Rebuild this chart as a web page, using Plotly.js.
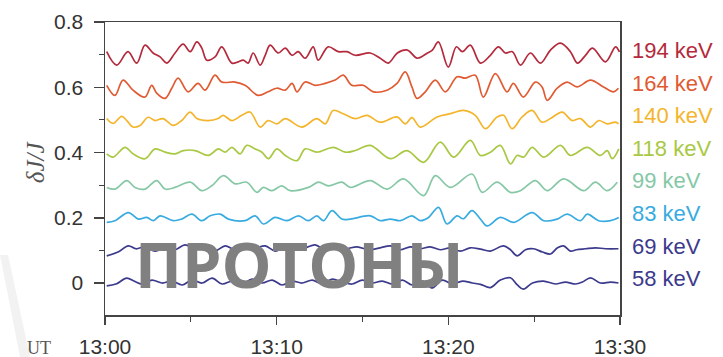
<!DOCTYPE html>
<html>
<head>
<meta charset="utf-8">
<script src="https://cdn.plot.ly/plotly-3.0.1.min.js"></script>
<style>
  html, body { margin: 0; padding: 0; background: #ffffff; }
  #chart { width: 723px; height: 357px; }
</style>
</head>
<body>
<div id="chart"></div>
<script>
// Proton flux fluctuations dJ/J, stacked by energy channel (time in minutes after 13:00 UT)
const energies = ["194 keV", "164 keV", "140 keV", "118 keV", "99 keV", "83 keV", "69 keV", "58 keV"];
const levels = [0.7, 0.6, 0.5, 0.4, 0.3, 0.2, 0.1, 0.0];
const colors = ["#b42a3c", "#e05a32", "#f4b52c", "#a9c843", "#86c8a6", "#38abe0", "#3c3a8c", "#3c3a8c"];

const t194 = [0.10,0.68,1.34,1.85,2.33,2.80,3.21,3.60,4.08,4.55,4.96,5.35,5.64,5.93,6.41,6.80,7.39,7.76,8.05,8.34,8.63,9.04,9.33,9.62,10.09,10.50,10.90,11.25,11.66,12.13,12.42,13.00,13.59,14.09,14.58,15.45,16.03,16.50,17.03,17.61,18.19,18.78,19.07,19.42,20.00,20.47,20.82,21.28,21.87,22.45,22.92,23.32,23.73,24.20,24.78,25.36,25.95,26.53,27.11,27.52,27.99,28.40,29.15,29.74,29.97];
const v194 = [0.709,0.668,0.709,0.674,0.729,0.705,0.693,0.674,0.705,0.732,0.709,0.739,0.720,0.683,0.693,0.724,0.674,0.678,0.683,0.674,0.705,0.668,0.698,0.729,0.705,0.720,0.698,0.709,0.689,0.724,0.683,0.724,0.709,0.709,0.698,0.705,0.689,0.674,0.705,0.714,0.689,0.705,0.714,0.739,0.662,0.724,0.709,0.729,0.674,0.698,0.724,0.705,0.709,0.668,0.705,0.674,0.714,0.735,0.709,0.674,0.698,0.720,0.678,0.724,0.708];

const t164 = [0.10,0.58,1.05,1.63,2.33,2.72,3.01,3.50,3.89,4.26,4.84,5.42,5.83,6.41,6.80,7.58,8.16,8.92,9.50,10.01,10.50,10.90,11.18,11.66,12.24,12.83,13.41,13.88,14.38,15.04,15.63,16.43,17.01,17.49,17.88,18.18,18.66,19.24,19.83,20.51,20.99,21.57,22.04,22.74,23.42,23.79,24.37,25.07,25.46,25.76,26.34,26.92,27.50,28.28,29.04,29.62,29.91];
const v164 = [0.606,0.575,0.622,0.591,0.570,0.606,0.582,0.566,0.597,0.628,0.586,0.612,0.591,0.637,0.616,0.616,0.606,0.575,0.586,0.597,0.591,0.612,0.586,0.616,0.606,0.612,0.622,0.637,0.606,0.606,0.586,0.591,0.612,0.647,0.601,0.566,0.586,0.622,0.586,0.632,0.628,0.637,0.570,0.642,0.586,0.612,0.570,0.616,0.601,0.560,0.597,0.616,0.601,0.622,0.601,0.586,0.597];

const t140 = [0.10,0.47,0.97,1.27,1.63,2.04,2.51,2.92,3.38,3.97,4.47,4.96,5.35,6.01,6.59,6.88,7.39,7.97,8.45,9.04,9.50,10.01,10.50,11.47,12.34,12.83,13.29,13.88,14.58,15.26,16.03,17.01,17.49,17.88,18.37,19.34,20.12,20.89,21.57,22.16,22.84,23.22,23.71,24.30,24.88,25.46,25.95,26.63,27.21,27.70,28.28,28.76,29.25,29.74,29.91];
const v140 = [0.504,0.489,0.511,0.498,0.478,0.483,0.508,0.498,0.504,0.483,0.498,0.524,0.504,0.498,0.504,0.514,0.498,0.514,0.524,0.478,0.498,0.488,0.504,0.478,0.504,0.488,0.529,0.519,0.504,0.514,0.493,0.509,0.488,0.507,0.478,0.509,0.519,0.529,0.514,0.473,0.509,0.514,0.473,0.509,0.529,0.493,0.504,0.524,0.498,0.504,0.478,0.498,0.488,0.493,0.488];

const t118 = [0.10,0.47,1.17,1.63,2.33,2.92,3.50,4.08,4.57,5.25,6.02,6.61,7.00,7.39,7.87,8.26,8.75,9.14,9.52,10.01,10.50,11.18,11.66,12.34,13.31,14.00,14.58,15.45,16.62,17.59,18.56,19.53,20.31,21.28,21.87,22.45,23.03,23.62,24.01,24.39,24.88,25.56,26.53,27.11,28.09,28.86,29.25,29.55,29.93];
const v118 = [0.396,0.386,0.416,0.396,0.381,0.411,0.401,0.396,0.406,0.406,0.391,0.411,0.401,0.416,0.396,0.422,0.411,0.401,0.381,0.411,0.391,0.375,0.411,0.401,0.416,0.401,0.406,0.422,0.381,0.406,0.370,0.432,0.386,0.437,0.391,0.401,0.422,0.365,0.391,0.386,0.416,0.386,0.422,0.391,0.416,0.391,0.406,0.381,0.411];

const t99 = [0.10,0.58,1.27,1.75,2.33,3.01,3.50,4.08,4.96,5.64,6.22,6.90,7.58,8.26,8.85,9.23,9.72,10.30,10.79,11.85,12.44,13.02,13.80,14.29,15.45,16.43,17.39,18.56,19.24,20.12,21.38,21.97,22.84,23.62,24.20,25.07,25.76,26.72,27.89,28.57,29.25,29.84];
const v99 = [0.293,0.288,0.314,0.293,0.288,0.314,0.288,0.293,0.309,0.283,0.298,0.329,0.304,0.309,0.278,0.293,0.283,0.298,0.283,0.293,0.309,0.298,0.309,0.293,0.314,0.288,0.319,0.268,0.329,0.293,0.334,0.278,0.309,0.278,0.283,0.314,0.283,0.319,0.283,0.309,0.283,0.309];

const t83 = [0.10,0.58,1.36,1.94,2.43,2.82,3.21,3.98,4.47,5.06,5.64,6.12,6.71,7.19,8.16,8.75,9.23,9.91,10.59,11.27,11.85,12.34,12.73,13.22,13.80,14.29,15.45,16.03,16.62,17.20,17.88,18.37,18.83,19.43,19.92,20.51,20.87,21.38,21.87,22.26,23.03,23.81,24.88,25.56,26.34,26.92,27.70,28.09,28.76,29.45,29.93];
const v83 = [0.186,0.191,0.216,0.196,0.201,0.191,0.206,0.191,0.196,0.211,0.191,0.206,0.211,0.196,0.191,0.206,0.181,0.201,0.191,0.206,0.191,0.206,0.191,0.222,0.196,0.196,0.206,0.191,0.196,0.191,0.206,0.191,0.200,0.232,0.181,0.206,0.197,0.222,0.196,0.175,0.201,0.186,0.216,0.191,0.196,0.211,0.191,0.211,0.191,0.191,0.201];

const t69 = [0.10,0.76,1.36,1.81,2.33,2.92,3.50,4.08,4.66,5.25,5.83,6.41,7.00,7.58,8.16,8.75,9.33,9.91,10.50,11.08,11.66,12.24,12.83,13.41,13.99,14.69,15.34,16.03,16.62,17.20,17.78,18.37,18.95,19.53,20.12,20.70,21.28,21.87,22.45,23.21,23.62,24.01,24.49,24.96,25.48,25.95,26.36,26.71,27.11,27.46,27.99,28.57,29.15,29.91];
const v69 = [0.083,0.095,0.114,0.105,0.111,0.098,0.108,0.102,0.117,0.105,0.111,0.098,0.114,0.102,0.117,0.108,0.114,0.098,0.111,0.102,0.108,0.117,0.102,0.114,0.105,0.111,0.102,0.108,0.114,0.102,0.111,0.105,0.111,0.102,0.108,0.098,0.108,0.104,0.098,0.114,0.102,0.083,0.102,0.105,0.095,0.089,0.108,0.114,0.098,0.102,0.105,0.108,0.105,0.105];

const t58 = [0.10,0.64,1.27,1.69,2.16,2.74,3.32,3.91,4.49,5.07,5.66,6.24,6.82,7.41,7.99,8.57,9.15,9.74,10.32,10.90,11.49,12.07,12.65,13.24,13.82,14.40,14.99,15.57,16.15,16.73,17.32,17.90,18.48,19.07,19.65,20.23,20.82,21.40,21.87,22.45,23.03,23.62,24.02,24.37,24.90,25.54,26.24,26.82,27.41,27.81,28.28,28.86,29.45,29.91];
const v58 = [-0.009,-0.003,0.015,0.006,-0.003,0.009,0.000,0.006,-0.006,0.009,0.000,0.015,-0.003,0.006,-0.003,0.012,0.000,0.009,-0.006,0.006,0.000,0.009,-0.003,0.012,0.003,-0.003,0.009,0.000,0.006,-0.003,0.009,-0.006,0.006,-0.015,0.009,-0.003,0.006,0.000,-0.004,-0.014,0.009,0.016,-0.006,-0.019,0.000,0.006,-0.003,0.003,-0.003,0.003,0.016,0.000,0.003,0.000];

const times = [t194, t164, t140, t118, t99, t83, t69, t58];
const values = [v194, v164, v140, v118, v99, v83, v69, v58];

// x axis ticks (minutes after 13:00) and their clock labels
const xTickVals = [0, 10, 20, 30];
const xTickText = ["13:00", "13:10", "13:20", "13:30"];
const yTickVals = [0, 0.2, 0.4, 0.6, 0.8];
const yTickText = ["0", "0.2", "0.4", "0.6", "0.8"];

const traces = energies.map((name, i) => ({
  type: "scatter",
  mode: "lines",
  name: name,
  x: times[i],
  y: values[i],
  line: { color: colors[i], width: 1.7, shape: "spline", smoothing: 1.0 },
  hoverinfo: "skip",
  showlegend: false
}));

const tickFont = { family: "Liberation Sans, Arial, sans-serif", size: 21, color: "#333333" };

// channel labels to the right of the panel, anchored at each trace level
const channelLabels = energies.map((name, i) => ({
  xref: "paper", yref: "y",
  x: 1.02, y: levels[i] + 0.013,
  xanchor: "left", yanchor: "middle",
  text: name, showarrow: false,
  font: { family: "Liberation Sans, Arial, sans-serif", size: 22, color: colors[i] }
}));

const layout = {
  width: 723, height: 357,
  margin: { l: 105, r: 103, t: 22, b: 42 },
  paper_bgcolor: "#ffffff",
  plot_bgcolor: "#ffffff",
  xaxis: {
    range: [0, 30],
    tickmode: "array", tickvals: xTickVals, ticktext: xTickText,
    ticks: "outside", ticklen: 8, tickwidth: 1.5, tickcolor: "#444444",
    minor: { tickmode: "array", tickvals: [5, 15, 25], ticks: "outside", ticklen: 5, tickwidth: 1.2, tickcolor: "#444444" },
    showline: true, linecolor: "#444444", linewidth: 1.5, mirror: true,
    showgrid: false, zeroline: false,
    ticklabelstandoff: 4,
    tickfont: tickFont
  },
  yaxis: {
    range: [-0.098, 0.8],
    tickmode: "array", tickvals: yTickVals, ticktext: yTickText,
    ticks: "outside", ticklen: 10, tickwidth: 1.5, tickcolor: "#444444",
    minor: { tickmode: "array", tickvals: [0.1, 0.3, 0.5, 0.7], ticks: "outside", ticklen: 5, tickwidth: 1.2, tickcolor: "#444444" },
    showline: true, linecolor: "#444444", linewidth: 1.5, mirror: true,
    showgrid: false, zeroline: false,
    ticklabelstandoff: 6,
    tickfont: tickFont
  },
  shapes: [
    // faint diagonal stroke in the lower-left corner
    {
      type: "path", xref: "paper", yref: "paper", layer: "below",
      path: "M -0.2039 0.2048 L -0.1883 0.2048 L -0.1456 -0.1433 L -0.1650 -0.1433 Z",
      fillcolor: "#f2f2f2", line: { width: 0 }
    }
  ],
  annotations: channelLabels.concat([
    {
      xref: "paper", yref: "paper", x: -0.136, y: 0.525,
      xanchor: "center", yanchor: "middle", textangle: -90,
      text: "δJ/J", showarrow: false,
      font: { family: "Liberation Serif, Times New Roman, serif", size: 25, color: "#555555", style: "italic" }
    },
    {
      xref: "paper", yref: "paper", x: -0.128, y: -0.112,
      xanchor: "center", yanchor: "middle",
      text: "UT", showarrow: false,
      font: { family: "Liberation Serif, Times New Roman, serif", size: 18, color: "#555555" }
    },
    {
      xref: "paper", yref: "paper", x: 0.3767, y: 0.176,
      xanchor: "center", yanchor: "middle",
      text: "ПРОТОНЫ", showarrow: false,
      font: { family: "Open Sans, Noto Sans, sans-serif", size: 63, weight: 700, color: "#808080" }
    }
  ])
};

Plotly.newPlot("chart", traces, layout, { displayModeBar: false, staticPlot: true });
</script>
</body>
</html>
